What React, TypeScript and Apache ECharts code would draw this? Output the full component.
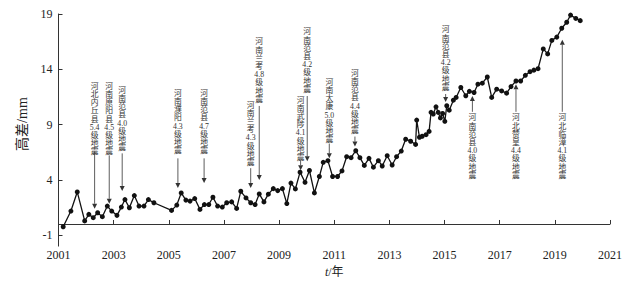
import React, { useEffect, useRef } from 'react';
import * as echarts from 'echarts';

const years = [
  2001.17, 2001.45, 2001.68, 2001.95, 2002.1, 2002.26, 2002.42, 2002.59, 2002.77, 2002.93,
  2003.12, 2003.28, 2003.41, 2003.57, 2003.75, 2003.92, 2004.1, 2004.26, 2004.46, 2005.1,
  2005.29, 2005.45, 2005.62, 2005.77, 2005.94, 2006.13, 2006.29, 2006.45, 2006.6, 2006.77,
  2006.94, 2007.1, 2007.28, 2007.46, 2007.61, 2007.8, 2007.97, 2008.13, 2008.28, 2008.45,
  2008.61, 2008.79, 2008.95, 2009.12, 2009.28, 2009.43, 2009.59, 2009.76, 2009.94, 2010.1,
  2010.28, 2010.46, 2010.6, 2010.77, 2010.94, 2011.12, 2011.28, 2011.45, 2011.61, 2011.78,
  2011.93, 2012.09, 2012.26, 2012.42, 2012.6, 2012.74, 2012.92, 2013.1, 2013.26, 2013.43,
  2013.59, 2013.77, 2013.95, 2013.99, 2014.09, 2014.19, 2014.33, 2014.44, 2014.51, 2014.59,
  2014.69, 2014.77, 2014.85, 2014.93, 2015.01, 2015.08, 2015.17, 2015.32, 2015.42, 2015.59,
  2015.77, 2015.9, 2016.07, 2016.21, 2016.37, 2016.55, 2016.71, 2016.89, 2017.07, 2017.25,
  2017.41, 2017.59, 2017.76, 2017.93, 2018.1, 2018.24, 2018.39, 2018.58, 2018.74, 2018.89,
  2019.07, 2019.25, 2019.43, 2019.57, 2019.76, 2019.92,
];

const heights = [
  -0.25, 1.17, 2.9, 0.28, 0.87, 0.57, 1.02, 0.66, 1.62, 1.17,
  0.78, 1.53, 2.21, 1.47, 2.57, 1.62, 1.62, 2.21, 1.92, 1.23,
  1.71, 2.81, 2.16, 2.07, 2.3, 1.32, 1.76, 1.76, 2.42, 1.62,
  1.53, 1.92, 2.0, 1.41, 2.96, 2.36, 1.92, 1.76, 2.72, 2.0,
  2.7, 3.2, 3.02, 3.2, 1.85, 3.7, 3.17, 4.69, 3.77, 4.84,
  2.81, 4.3, 5.58, 5.73, 4.3, 4.3, 4.8, 6.09, 6.0, 6.63,
  6.0, 5.3, 5.94, 5.14, 5.73, 5.25, 6.18, 5.34, 6.09, 6.6,
  7.67, 7.49, 7.2, 9.4, 7.85, 7.94, 8.08, 8.38, 10.1, 9.95,
  10.6, 10.1, 9.6, 10.0, 9.29, 10.7, 10.3, 11.2, 11.45, 12.35,
  11.6, 12.0, 11.9, 12.65, 12.74, 13.3, 11.45, 12.2, 12.04, 11.84,
  12.43, 12.94, 12.94, 13.45, 13.78, 13.92, 14.05, 15.84, 15.39, 16.61,
  16.91, 17.71, 18.25, 18.9, 18.6, 18.4,
];

const yTicks = [-1, 4, 9, 14, 19];

// earthquake annotations: place, magnitude, year, text top value, arrow tail value, arrow tip value
const quakePlaces = [
  '河北内丘县', '河南原阳县', '河南范县', '河南濮阳', '河南范县',
  '河南兰考', '河南兰考', '河南范县', '河南武陟', '河南太康',
  '河南范县', '河南范县', '河南范县', '河北赞皇', '河北临漳',
];
const quakeMags = ['5.4', '4.5', '4.0', '4.3', '4.7', '4.3', '4.8', '4.2', '4.1', '5.0', '4.4', '4.2', '4.0', '4.4', '4.1'];
const quakeYears = [2002.31, 2002.84, 2003.31, 2005.33, 2006.28, 2007.97, 2008.28, 2010.02, 2009.78, 2010.82, 2011.75, 2015.04, 2016.01, 2017.59, 2019.27];
const quakeTextTop = [12.83, 12.83, 12.47, 12.2, 12.2, 11.13, 16.85, 17.75, 11.58, 13.19, 14.0, 17.93, 9.97, 9.97, 9.97];
const quakeTail = [6.57, 6.21, 6.39, 5.94, 5.94, 5.05, 10.68, 11.58, 5.76, 7.28, 7.91, 11.76, 10.15, 10.15, 10.15];
const quakeTip = [1.38, 1.83, 2.99, 3.26, 3.7, 3.26, 3.97, 5.67, 4.87, 5.94, 7.01, 11.04, 11.58, 12.65, 16.67];

const FONT = "'Liberation Serif', 'Noto Sans CJK SC', serif";

export default function App() {
  const ref = useRef<HTMLDivElement>(null);
  useEffect(() => {
    if (!ref.current) return;
    document.body.style.margin = '0';
    const chart = echarts.init(ref.current, null, { renderer: 'svg' });
    const data = years.map((y, i) => [y, heights[i]]);
    chart.setOption({
      animation: false,
      backgroundColor: '#fff',
      grid: { left: 58.5, right: 31, top: 14, bottom: 34.7 },
      xAxis: {
        type: 'value',
        min: 2001,
        max: 2021,
        interval: 2,
        name: '{i|t}/年',
        nameLocation: 'middle',
        nameGap: 17,
        nameTextStyle: {
          color: '#222',
          fontSize: 12,
          fontFamily: FONT,
          rich: { i: { fontStyle: 'italic', fontSize: 12, fontFamily: FONT, color: '#222' } },
        },
        axisLine: { lineStyle: { color: '#333', width: 1 } },
        axisTick: { inside: true, length: 4, lineStyle: { color: '#333' } },
        axisLabel: { color: '#222', fontSize: 12, fontFamily: FONT, margin: 3, formatter: (v: number) => String(v) },
        splitLine: { show: false },
      },
      yAxis: {
        type: 'value',
        min: -2,
        max: 19,
        name: '高差/mm',
        nameLocation: 'middle',
        nameGap: 27,
        nameTextStyle: { color: '#222', fontSize: 14, fontFamily: FONT, padding: [0, 0, 0, 12] },
        axisLine: { show: true, lineStyle: { color: '#333', width: 1 } },
        axisTick: { show: true, inside: true, length: 4, customValues: yTicks, lineStyle: { color: '#333' } },
        axisLabel: { color: '#222', fontSize: 12, fontFamily: FONT, margin: 6, customValues: yTicks },
        splitLine: { show: false },
      },
      series: [
        {
          type: 'line',
          data,
          symbol: 'circle',
          symbolSize: 5,
          lineStyle: { color: '#111', width: 1.3 },
          itemStyle: { color: '#111' },
        },
      ],
    });

    const graphics: any[] = [];
    const rowH = 8.2;
    quakePlaces.forEach((place, i) => {
      const rows = [...place.split(''), quakeMags[i], '级', '地', '震'];
      const [tx, ty] = chart.convertToPixel({ gridIndex: 0 }, [quakeYears[i], quakeTextTop[i]]) as number[];
      const [, tailY] = chart.convertToPixel({ gridIndex: 0 }, [quakeYears[i], quakeTail[i]]) as number[];
      const [, tipY] = chart.convertToPixel({ gridIndex: 0 }, [quakeYears[i], quakeTip[i]]) as number[];
      graphics.push({
        type: 'text',
        x: tx,
        y: ty,
        silent: true,
        style: {
          text: rows.join('\n'),
          fill: '#333',
          fontSize: 7.8,
          fontFamily: FONT,
          lineHeight: rowH,
          align: 'center',
          verticalAlign: 'top',
        },
      });
      const down = tipY > tailY;
      const headLen = 5;
      const baseY = down ? tipY - headLen : tipY + headLen;
      graphics.push({
        type: 'line',
        silent: true,
        shape: { x1: tx, y1: tailY, x2: tx, y2: baseY },
        style: { stroke: '#333', lineWidth: 0.8 },
      });
      graphics.push({
        type: 'polygon',
        silent: true,
        shape: { points: [[tx - 2.5, baseY], [tx + 2.5, baseY], [tx, tipY]] },
        style: { fill: '#333' },
      });
    });
    chart.setOption({ graphic: graphics });

    return () => chart.dispose();
  }, []);
  return <div ref={ref} style={{ width: 641, height: 283 }} />;
}
